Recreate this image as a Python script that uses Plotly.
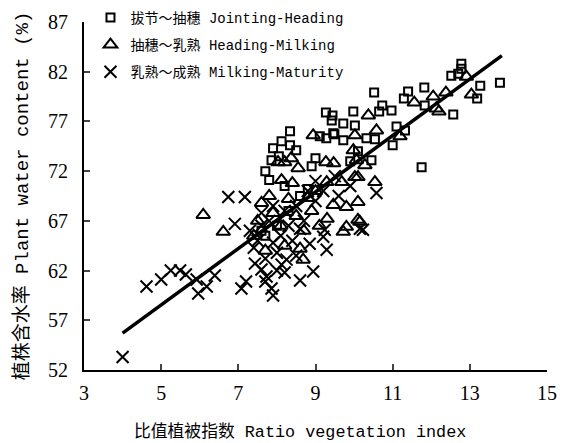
import plotly.graph_objects as go

# ---- data ----
jh_x = [7.80, 7.86, 7.90, 8.12, 8.34, 8.50, 8.34, 9.27, 9.42, 9.11, 9.28, 9.49, 9.44, 9.72, 10.02,
        9.46, 9.72, 9.98, 10.52, 10.73, 10.65, 10.97, 10.32, 10.54, 11.10, 11.32, 11.00, 11.75,
        10.45, 11.40, 11.29, 11.82, 11.83, 12.52, 12.70, 12.78, 12.78, 13.27, 13.78, 13.19, 12.57,
        7.60, 7.70, 8.00, 8.30, 8.60, 8.80, 8.20, 9.00, 8.90, 7.70, 8.05, 9.90, 10.10]
jh_y = [71.1, 73.1, 74.3, 75.0, 74.6, 74.1, 76.0, 77.9, 77.1, 75.5, 75.3, 75.7, 77.6, 76.8, 76.6,
        75.8, 75.1, 78.0, 79.9, 78.6, 78.0, 78.1, 75.3, 75.2, 76.5, 76.1, 74.6, 72.4,
        73.1, 80.0, 79.3, 80.4, 78.6, 81.6, 81.8, 82.3, 82.8, 80.6, 80.9, 79.3, 77.7,
        66.0, 65.5, 66.5, 68.0, 69.5, 70.2, 70.5, 73.3, 72.5, 72.0, 73.5, 73.0, 74.0]

hm_x = [6.09, 6.61, 8.03, 8.20, 8.37, 8.55, 8.94, 8.12, 9.27, 9.47, 13.04, 12.91, 12.05, 12.38,
        12.13, 12.20, 11.56, 10.37, 10.02, 10.58, 11.19, 10.28, 10.06, 9.98, 10.54, 10.02, 9.29,
        9.68, 10.10, 10.10, 9.80, 9.46, 10.10, 9.72, 9.80, 10.15, 8.68,
        7.60, 7.80, 7.50, 7.90, 8.10, 8.30, 8.50, 8.70, 8.90, 8.20, 8.60, 7.70, 9.00, 8.40,
        9.10, 8.80, 7.40, 9.30]
hm_y = [67.6, 65.9, 72.9, 72.9, 73.3, 72.3, 75.6, 71.1, 72.9, 72.8, 79.7, 81.5, 79.5, 79.9,
        78.3, 78.0, 78.9, 77.6, 75.6, 76.1, 75.5, 72.6, 73.1, 74.1, 70.9, 71.4, 70.9,
        70.9, 71.4, 68.9, 68.4, 68.6, 67.1, 65.9, 66.4, 66.9, 63.1,
        68.8, 69.5, 67.0, 67.8, 66.5, 69.2, 67.5, 66.0, 68.0, 64.5, 64.2, 64.0, 70.0, 70.8,
        66.5, 69.3, 65.5, 67.2]

mm_x = [4.00, 4.62, 5.00, 5.25, 5.49, 5.64, 5.92, 5.96, 6.18, 6.39, 6.74, 7.17, 6.91, 7.08,
        7.20, 7.43, 7.60, 7.73, 7.70, 7.90, 7.86, 8.12, 8.25, 8.60, 8.94, 9.29, 9.24, 10.23,
        8.85, 10.58, 10.15, 9.20,
        7.30, 7.50, 7.60, 7.80, 7.90, 8.00, 8.10, 8.30, 8.40, 8.50, 8.70, 8.80, 9.00, 9.00,
        9.20, 9.50, 7.60, 7.90, 8.20, 8.50, 8.00, 7.70, 9.60, 9.90, 7.40, 8.60, 8.20]
mm_y = [53.3, 60.4, 61.1, 62.0, 62.0, 61.6, 61.1, 59.7, 60.4, 61.5, 69.4, 69.4, 66.7, 60.2,
        60.9, 62.7, 62.1, 61.4, 60.9, 59.5, 60.2, 62.6, 63.1, 61.0, 61.9, 64.1, 66.1, 66.1,
        64.7, 69.8, 66.2, 65.4,
        66.0, 65.0, 66.5, 67.0, 64.8, 63.8, 65.5, 66.5, 65.0, 68.5, 67.0, 70.0, 71.0, 69.0,
        70.0, 71.5, 67.8, 68.5, 68.0, 63.5, 62.0, 63.2, 69.5, 70.5, 64.3, 66.2, 61.8]

fit_slope = 2.84
fit_intercept = 44.34
fit_x = [4.0, 13.83]

series_names = ["拔节～抽穗 Jointing-Heading",
                "抽穗～乳熟 Heading-Milking",
                "乳熟～成熟 Milking-Maturity"]
x_ticks = [3, 5, 7, 9, 11, 13, 15]
y_ticks = [52, 57, 62, 67, 72, 77, 82, 87]
x_title = "比值植被指数 Ratio vegetation index"
y_title = "植株含水率 Plant water content (%)"

# ---- figure ----
mono = "Liberation Mono, Noto Sans CJK SC, monospace"
serif = "Liberation Serif, serif"

fig = go.Figure()
fig.add_trace(go.Scatter(x=jh_x, y=jh_y, mode="markers", name=series_names[0], legendgroup="a",
                         marker=dict(symbol="square-open", size=8, color="black",
                                     line=dict(width=2, color="black"))))
fig.add_trace(go.Scatter(x=hm_x, y=hm_y, mode="markers", name=series_names[1], legendgroup="b",
                         marker=dict(symbol="triangle-up-open", size=12, color="black",
                                     line=dict(width=2, color="black"))))
fig.add_trace(go.Scatter(x=mm_x, y=mm_y, mode="markers", name=series_names[2], legendgroup="c",
                         marker=dict(symbol="x-thin", size=12, color="black",
                                     line=dict(width=2, color="black"))))
fit_y = [fit_slope * v + fit_intercept for v in fit_x]
fig.add_trace(go.Scatter(x=fit_x, y=fit_y, mode="lines", showlegend=False,
                         line=dict(color="black", width=3.5)))

fig.update_layout(
    width=571, height=443,
    margin=dict(l=84, r=24, t=22, b=73, autoexpand=False),
    paper_bgcolor="white", plot_bgcolor="white",
    showlegend=True,
    legend=dict(x=0.014, y=1.058, xanchor="left", yanchor="top",
                font=dict(family=mono, size=14, color="black"),
                bgcolor="rgba(0,0,0,0)", traceorder="grouped", tracegroupgap=6,
                itemwidth=30),
    font=dict(family=serif, color="black"),
    annotations=[dict(text=x_title, xref="paper", yref="paper", x=0.4665, y=-0.178,
                      xanchor="center", yanchor="middle", showarrow=False,
                      font=dict(family=mono, size=16.8, color="black"))],
)
fig.update_xaxes(range=[3, 15], tickvals=x_ticks, ticks="inside", ticklen=6, tickwidth=2,
                 showline=True, linewidth=2, linecolor="black", showgrid=False, zeroline=False,
                 tickfont=dict(family=serif, size=20, color="black"), ticklabelstandoff=4,
                 automargin=False)
fig.update_yaxes(range=[52, 87], tickvals=y_ticks, ticks="inside", ticklen=6, tickwidth=2,
                 showline=True, linewidth=2, linecolor="black", showgrid=False, zeroline=False,
                 tickfont=dict(family=serif, size=20, color="black"), ticklabelstandoff=10,
                 automargin=False,
                 title=dict(text=y_title, font=dict(family=mono, size=19, color="black"), standoff=14))

fig.write_html("out.html")
